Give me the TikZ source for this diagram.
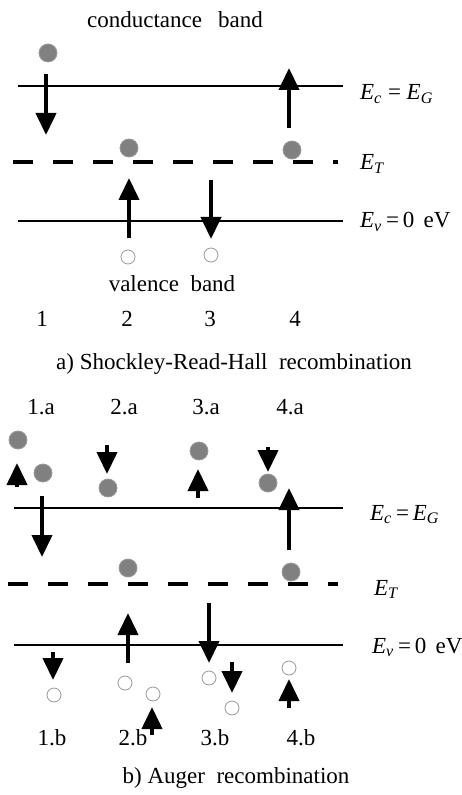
\documentclass[tikz,border=0pt]{standalone}
\usepackage{fontspec}
\setmainfont{Liberation Serif}
\usetikzlibrary{arrows.meta,positioning}

\newcommand{\Elev}[1]{\textit{E}\textsubscript{\textit{#1}}}

\begin{document}
\begin{tikzpicture}[x=0.5pt, y=-0.5pt, font=\fontsize{11.5}{14}\selectfont,
  elec/.style={circle, fill=gray, draw=gray!80, line width=0.4pt, inner sep=0pt, minimum size=9pt},
  hole/.style={circle, draw=gray!80, fill=white, line width=0.4pt, inner sep=0pt, minimum size=7pt},
  trans/.style={line width=2pt, -{Triangle[width=10pt,length=11pt]}},
  level/.style={line width=1pt},
  trap/.style={line width=2.2pt, dash pattern=on 10pt off 10pt},
  lvl/.style={anchor=base west}]

\useasboundingbox (0,0) rectangle (461,795);

% ── TOP: Shockley-Read-Hall ─────────────────────────────────

% Levels
\draw[level] (18,86) coordinate (ecA) -- (343,86) coordinate (ecB);
\draw[trap]  (13,162) coordinate (etA) -- (338,162) coordinate (etB);
\draw[level] (18,221) coordinate (evA) -- (343,221) coordinate (evB);

\node[lvl] (ecl) at (353,100) {\Elev{c} = \Elev{G}};
\node[lvl] (etl) at (353,170) {\Elev{T}};
\node[lvl] (evl) at (353,228) {\Elev{v}\,=\,0\hspace{0.4em}eV};

% Band names
\node[anchor=base] (cb) at (175,28) {conductance\hspace{0.7em}band};
\node[anchor=base] (vb) at (172,292) {valence\ \ band};

% Carriers
\node[elec] (e1) at (48,53) {};
\node[elec] (e2) at (129,148) {};
\node[elec] (e4) at (292,150) {};
\node[hole] (h2) at (128,257) {};
\node[hole] (h3) at (211,255) {};

% Transitions
\foreach \nm/\xpos/\ya/\yb in {t1/46/74/135, t2/129/238/178, t3/211/180/239, t4/289/128/68} {
    \coordinate (\nm s) at (\xpos,\ya);
    \coordinate (\nm e) at (\xpos,\yb);
    \draw[trans] (\nm s) -- (\nm e);
}

% Process numbers
\foreach \xpos/\lbl in {42/1, 127/2, 210/3, 295/4} {
    \node[anchor=base] (n\lbl) at (\xpos,327) {\lbl};
}

% Caption
\node[anchor=base] (capa) at (234,370) {a)\ Shockley-Read-Hall\ \ recombination};

% ── BOTTOM: Auger ───────────────────────────────────────────

% Levels
\draw[level] (14,508) coordinate (ecC) -- (343,508) coordinate (ecD);
\draw[trap]  (8,584) coordinate (etC) -- (338,584) coordinate (etD);
\draw[level] (14,645) coordinate (evC) -- (343,645) coordinate (evD);

\node[lvl] (ecl2) at (363,520) {\Elev{c}\,=\,\Elev{G}};
\node[lvl] (etl2) at (367,595) {\Elev{T}};
\node[lvl] (evl2) at (365,653) {\Elev{v}\,=\,0\hspace{0.4em}eV};

% Labels above
\foreach \xpos/\lbl in {41/1, 124/2, 206/3, 290/4} {
    \node[anchor=base] (a\lbl) at (\xpos,415) {\lbl.a};
}

% Electrons
\node[elec] (ea1) at (18,440) {};
\node[elec] (ea1b) at (43,473) {};
\node[elec] (ea2) at (108,488) {};
\node[elec] (ea3) at (199,451) {};
\node[elec] (ea4) at (268,483) {};
\node[elec] (et2) at (128,568) {};
\node[elec] (et4) at (291,572) {};

% Holes
\node[hole] (hb1) at (54,695) {};
\node[hole] (hb2) at (125,683) {};
\node[hole] (hb2b) at (153,694) {};
\node[hole] (hb3) at (209,678) {};
\node[hole] (hb3b) at (232,708) {};
\node[hole] (hb4) at (289,668) {};

% Transitions
\foreach \nm/\xpos/\ya/\yb in {
    u1/17/487/463, u2/107/445/474, u3/198/498/469, u4/268/447/472,
    m1/42/496/557, m4/289/550/488, m2/128/663/613, m3/209/603/663,
    d1/53/652/680, d2/152/735/707, d3/232/662/693, d4/289/708/679} {
    \coordinate (\nm s) at (\xpos,\ya);
    \coordinate (\nm e) at (\xpos,\yb);
    \draw[trans] (\nm s) -- (\nm e);
}

% Labels below
\foreach \xpos/\lbl in {52/1, 133/2, 215/3, 301/4} {
    \node[anchor=base] (b\lbl) at (\xpos,745) {\lbl.b};
}

% Caption
\node[anchor=base] (capb) at (236,783) {b)\ Auger\ \ recombination};

\end{tikzpicture}
\end{document}
